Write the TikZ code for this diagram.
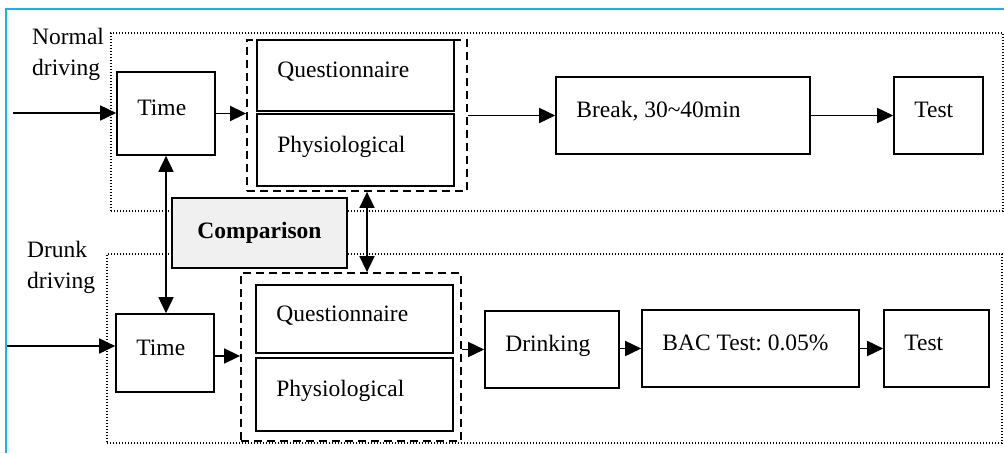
\documentclass[tikz,border=0pt]{standalone}
\usepackage{fontspec}
\setmainfont{Liberation Serif}
\usepackage{tikz}
\usetikzlibrary{arrows.meta,positioning,calc}

\definecolor{framecyan}{RGB}{22,178,235}
\definecolor{cmpgray}{RGB}{240,240,240}
\frenchspacing

\begin{document}
\begin{tikzpicture}[x=1pt, y=-1pt, font=\fontsize{23.5}{31}\selectfont, >={Triangle[length=16pt,width=15pt]},
    stage/.style 2 args={draw, line width=1.6pt, minimum width=#1, minimum height=#2, inner sep=0pt},
    txt/.style={label={[anchor=base west, xshift=21pt, yshift=-2pt, inner sep=0pt]west:{#1}}},
    group/.style 2 args={draw, line width=1.2pt, dash pattern=on 1.2pt off 1.8pt, minimum width=#1, minimum height=#2, inner sep=0pt},
    pair/.style 2 args={draw, line width=1.8pt, dash pattern=on 8pt off 5pt, minimum width=#1, minimum height=#2, inner sep=0pt},
    flow/.style={->, line width=1.6pt}]
    \useasboundingbox (0,0) rectangle (1004,453);

    % Outer frame (only top and left visible)
    \draw[framecyan, line width=2.2pt] (6,453) -- (6,9) -- (1004,9);

    % Dotted groups
    \node[group={892pt}{178pt}] (g1) at (557,122) {};
    \node[group={895pt}{189pt}] (g2) at (554.5,348.5) {};
    \node[anchor=north west, align=left, inner sep=0pt] (nlab) at (32,28) {Normal\\driving};
    \node[anchor=north west, align=left, inner sep=0pt] (dlab) at (27,241) {Drunk\\driving};

    % Dashed measurement pairs
    \node[pair={220pt}{151pt}] (d1) at (357,115.5) {};
    \node[pair={220pt}{168pt}] (d2) at (351,357) {};

    % Normal driving row
    \node[stage={98pt}{83pt}, txt=Time] (t1) at (166,113.5) {};
    \node[stage={197pt}{71pt}, txt=Questionnaire] (q1) at (355.5,75.5) {};
    \node[stage={197pt}{72pt}, txt=Physiological] (p1) at (355.5,150) {};
    \node[stage={254pt}{77pt}, txt={Break, 30\textasciitilde40min}] (b1) at (683,115.5) {};
    \node[stage={89pt}{77pt}, txt=Test] (s1) at (938.5,115.5) {};

    % Drunk driving row
    \node[stage={98pt}{78pt}, txt=Time] (t2) at (165,353) {};
    \node[stage={197pt}{68pt}, txt=Questionnaire] (q2) at (354.5,319) {};
    \node[stage={197pt}{73pt}, txt=Physiological] (p2) at (354.5,394.5) {};
    \node[stage={134pt}{77pt}, txt=Drinking] (k2) at (552,349.5) {};
    \node[stage={217pt}{77pt}, txt={BAC Test: 0.05\%}] (bac) at (750.5,348.5) {};
    \node[stage={105pt}{77pt}, txt=Test] (s2) at (936.5,348.5) {};

    % Comparison
    \node[stage={175pt}{70pt}, fill=cmpgray, font=\fontsize{23.5}{29}\selectfont\bfseries] (cmp) at (259.5,233) {Comparison};

    % Flow arrows
    \coordinate (in1) at (13,113);
    \coordinate (in2) at (7,346);
    \draw[flow] (in1) -- (in1 -| t1.west);
    \draw[flow] (t1.east) -- (t1.east -| d1.west);
    \draw[flow] (d1.east) -- (d1.east -| b1.west);
    \draw[flow] (b1.east) -- (s1.west);

    \draw[flow] (in2) -- (in2 -| t2.west);
    \draw[flow] ([yshift=-3pt]t2.east) -- ([yshift=-3pt]t2.east -| d2.west);
    \draw[flow] (d2.east |- k2.west) -- (k2.west);
    \draw[flow] (k2.east |- bac.west) -- (bac.west);
    \draw[flow] (bac.east) -- (s2.west);

    % Comparison links
    \coordinate (vx) at (367,0);
    \draw[<->, line width=1.6pt] (t1.south) -- (t1.south |- t2.north);
    \draw[<->, line width=1.6pt] (vx |- d1.south) -- (vx |- d2.north);

\end{tikzpicture}
\end{document}
